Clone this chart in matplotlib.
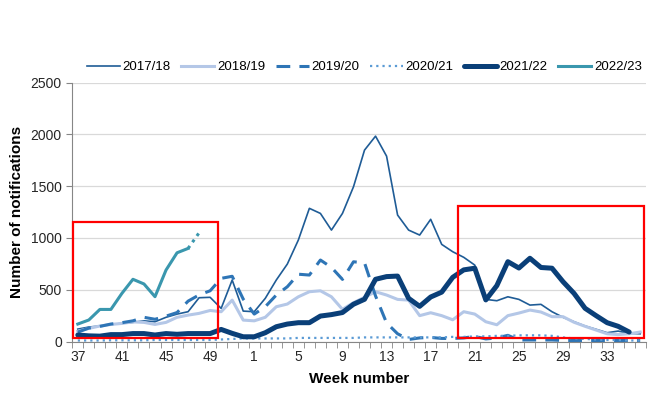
import matplotlib
matplotlib.use("Agg")
import matplotlib.pyplot as plt
from matplotlib.patches import Rectangle
import numpy as np

plt.rcParams['font.family'] = ['Liberation Sans Narrow', 'Liberation Sans', 'DejaVu Sans']

# weeks 37..52 then 1..36
weeks = list(range(37, 53)) + list(range(1, 37))
tick_weeks = [37, 41, 45, 49, 1, 5, 9, 13, 17, 21, 25, 29, 33]

s1718 = [120, 140, 150, 165, 175, 185, 200, 191, 234, 265, 288, 423, 427, 320, 594, 294,
         288, 417, 594, 748, 980, 1286, 1237, 1076, 1237, 1494, 1848, 1983, 1790, 1221, 1076, 1028,
         1180, 938, 867, 813, 738, 407, 394, 432, 407, 352, 359, 288, 234, 191, 150, 118,
         85, 101, 79, 75]
s1819 = [100, 127, 150, 165, 175, 190, 185, 165, 185, 234, 255, 272, 300, 288, 400, 207,
         200, 234, 336, 362, 432, 481, 490, 432, 311, 375, 427, 481, 449, 407, 400, 250,
         278, 250, 210, 288, 265, 191, 162, 250, 275, 304, 285, 240, 240, 186, 147, 111,
         75, 67, 75, 92]
s1920 = [91, 130, 146, 169, 182, 200, 234, 215, 245, 280, 390, 450, 490, 610, 630, 410,
         265, 336, 449, 529, 650, 642, 787, 716, 600, 770, 760, 440, 180, 75, 20, 35,
         40, 30, 30, 35, 50, 25, 35, 60, 15, 15, 15, 15, 10, 10, 10, 10,
         10, 10, 10, 10]
s2021 = [10, 10, 10, 12, 12, 12, 12, 15, 15, 15, 15, 15, 15, 20, 25, 30,
         30, 30, 30, 30, 35, 35, 35, 35, 35, 35, 40, 40, 40, 40, 40, 40,
         40, 40, 45, 45, 50, 50, 55, 55, 60, 60, 60, 55, 40, 30, 25, 20,
         15, 15, 10, 10]
s2122 = [63, 55, 52, 67, 67, 77, 77, 63, 77, 70, 77, 77, 77, 117, 79, 46,
         46, 85, 143, 169, 182, 182, 246, 260, 280, 360, 408, 601, 627, 632, 417, 340,
         430, 477, 620, 692, 708, 402, 540, 771, 710, 804, 715, 708, 578, 465, 321, 250,
         182, 147, 92, np.nan]
s2223 = [169, 208, 310, 310, 465, 601, 556, 433, 690, 857, 899]
s2223_prov = [899, 1050]   # weeks 47-48, dotted (provisional)

x = np.arange(len(weeks))

fig = plt.figure(figsize=(6.65, 3.99), dpi=100)
ax = fig.add_axes([0.1087, 0.144, 0.8623, 0.649])

ax.plot(x, s1718, color='#1F5C96', lw=1.2, label='2017/18')
ax.plot(x, s1819, color='#B4C7E7', lw=2.2, label='2018/19')
ax.plot(x, s1920, color='#2E75B6', lw=2.2, linestyle=(0, (4.5, 3)), label='2019/20')
ax.plot(x, s2021, color='#5B9BD5', lw=1.6, linestyle=(0, (1, 1.8)), label='2020/21')
ax.plot(x, s2122, color='#0A3F78', lw=3.6, solid_capstyle='round', label='2021/22')
ax.plot(x[:len(s2223)], s2223, color='#3A97AE', lw=2.2, label='2022/23')
ax.plot(x[len(s2223) - 1:len(s2223) + 1], s2223_prov, color='#3A97AE', lw=2.2,
        linestyle=(0, (1, 1.5)))

# red highlight boxes
ax.add_patch(Rectangle((-0.45, 35), 13.2, 1120, fill=False, edgecolor='#FF0000', lw=1.6, clip_on=False, zorder=5))
ax.add_patch(Rectangle((34.5, 35), 16.8, 1275, fill=False, edgecolor='#FF0000', lw=1.6, clip_on=False, zorder=5))

ax.set_xlim(-0.5, 51.5)
ax.set_ylim(0, 2500)
ax.set_yticks(np.arange(0, 2501, 500))
ax.yaxis.grid(True, color='#D9D9D9', lw=0.9)
ax.set_axisbelow(True)

ax.set_xticks([weeks.index(w) for w in tick_weeks])
ax.set_xticklabels([str(w) for w in tick_weeks])
ax.set_xticks(np.arange(-0.5, 52, 1), minor=True)
ax.tick_params(axis='x', which='major', length=0, labelsize=10, pad=6, colors='#262626')
ax.tick_params(axis='x', which='minor', length=4, color='#868686')
ax.tick_params(axis='y', length=4, color='#868686', labelsize=10, labelcolor='#262626')

for s in ['top', 'right']:
    ax.spines[s].set_visible(False)
ax.spines['left'].set_color('#868686')
ax.spines['bottom'].set_color('#868686')

ax.set_xlabel('Week number', fontsize=11, fontweight='bold', labelpad=6)
ax.set_ylabel('Number of notifications', fontsize=11, fontweight='bold', labelpad=5)

fig.legend(loc='center', bbox_to_anchor=(0.548, 0.832), ncol=6, frameon=False, fontsize=9.5,
           handlelength=2.5, handletextpad=0.2, columnspacing=0.8)

fig.savefig('out.png', dpi=100)
